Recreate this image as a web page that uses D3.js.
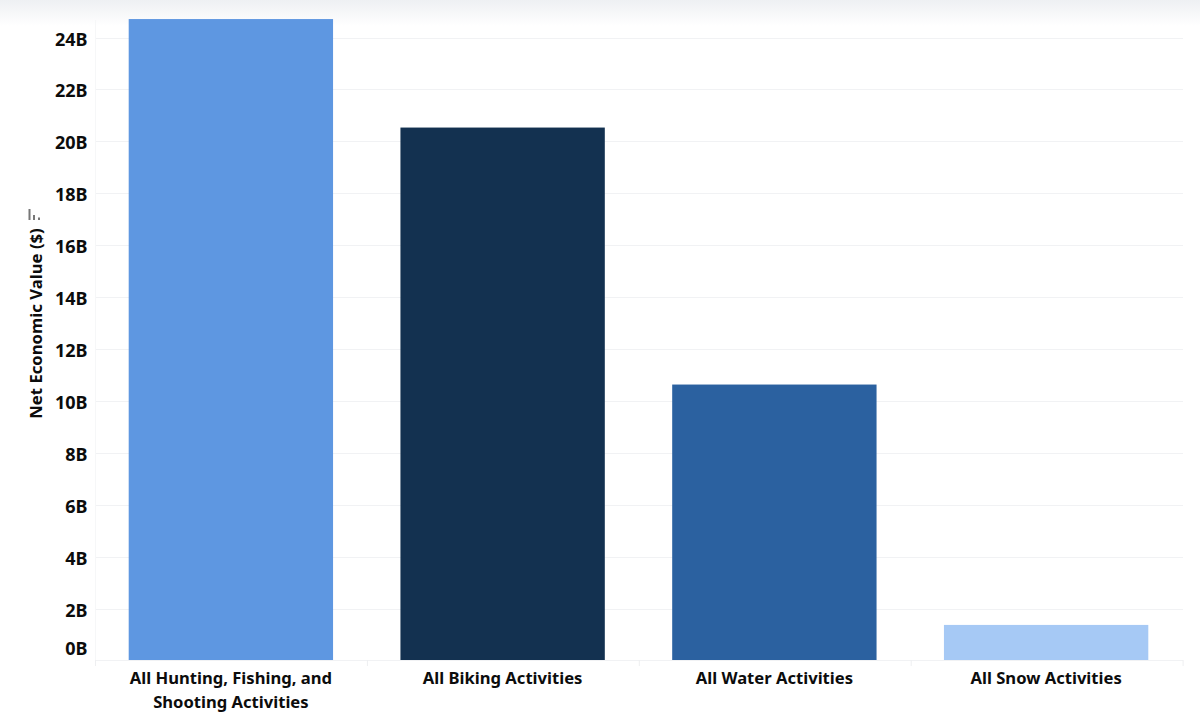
<!DOCTYPE html>
<html><head><meta charset="utf-8">
<script src="https://cdn.jsdelivr.net/npm/d3@7/dist/d3.min.js"></script>
<style>
html,body{margin:0;padding:0;background:#fff;overflow:hidden}
text{font-family:"Noto Sans",sans-serif;font-weight:700;fill:#0c0c0c}
</style></head><body><svg id="c" width="1200" height="728"></svg>
<script>
const categories = [["All Hunting, Fishing, and","Shooting Activities"],["All Biking Activities"],["All Water Activities"],["All Snow Activities"]];
const values = [24.73, 20.55, 10.65, 1.39];
const colors = ["#5e97e1","#133150","#2b61a0","#a6c9f5"];
const tickValues = [0,2,4,6,8,10,12,14,16,18,20,22,24];
const yTitle = "Net Economic Value ($)";

const svg = d3.select("#c");
const defs = svg.append("defs");
const grad = defs.append("linearGradient").attr("id","top").attr("x1",0).attr("x2",0).attr("y1",0).attr("y2",1);
grad.append("stop").attr("offset",0).attr("stop-color","#eef0f3");
grad.append("stop").attr("offset",1).attr("stop-color","#ffffff");
svg.append("rect").attr("width",1200).attr("height",26).attr("fill","url(#top)");
defs.append("clipPath").attr("id","plot").append("rect").attr("x",95).attr("y",0).attr("width",1088).attr("height",660);

const y = d3.scaleLinear().domain([0,24]).range([661,38]);
const x = d3.scaleBand().domain(d3.range(categories.length)).range([95,1182]).paddingInner(0.248).paddingOuter(0.124);

const yAxis = svg.append("g").call(d3.axisLeft(y).tickValues(tickValues).tickSize(0).tickFormat(d=>d+"B"));
yAxis.select(".domain").remove();
yAxis.selectAll("text").attr("x",87.5).attr("dy",null).attr("dominant-baseline","central")
  .style("font-family",'"Noto Sans",sans-serif').style("font-size","18px").style("font-weight","700").attr("fill","#0c0c0c")
  .attr("transform",d=>d===0?"translate(0,-14)":null);

svg.append("g").selectAll("line").data(tickValues.filter(d=>d>0)).join("line")
  .attr("x1",95).attr("x2",1183).attr("y1",d=>Math.floor(y(d))+0.5).attr("y2",d=>Math.floor(y(d))+0.5)
  .attr("stroke","#f1f2f4");

svg.append("g").attr("clip-path","url(#plot)").selectAll("rect").data(values).join("rect")
  .attr("x",(d,i)=>x(i)).attr("width",x.bandwidth())
  .attr("y",d=>y(d)).attr("height",d=>y(0)-y(d))
  .attr("fill",(d,i)=>colors[i]);

// axis frame
svg.append("line").attr("x1",95).attr("x2",1183).attr("y1",660.5).attr("y2",660.5).attr("stroke","#f1f2f4");
svg.append("line").attr("x1",95.5).attr("x2",95.5).attr("y1",20).attr("y2",666).attr("stroke","#f6f7f8");
svg.append("g").selectAll("line").data(d3.range(categories.length+1)).join("line")
  .attr("x1",i=>95.5+i*271.9).attr("x2",i=>95.5+i*271.9).attr("y1",660).attr("y2",666).attr("stroke","#eeeff1");

const labels = svg.append("g").selectAll("text").data(categories).join("text")
  .attr("text-anchor","middle").attr("font-size",16.6)
  .attr("transform",(d,i)=>`translate(${x(i)+x.bandwidth()/2},684)`);
labels.selectAll("tspan").data(d=>d).join("tspan").attr("x",0).attr("y",(d,i)=>i*24).text(d=>d);

svg.append("text").attr("transform","translate(41.5,323.5) rotate(-90)").attr("text-anchor","middle")
  .attr("font-size",16.7).text(yTitle);

// sort indicator icon
const icon = svg.append("g").attr("fill","#777");
[[28.5,11],[33,5],[38,2.5]].forEach(([px,h])=>icon.append("rect").attr("x",px).attr("y",220-h).attr("width",2).attr("height",h));
</script></body></html>
